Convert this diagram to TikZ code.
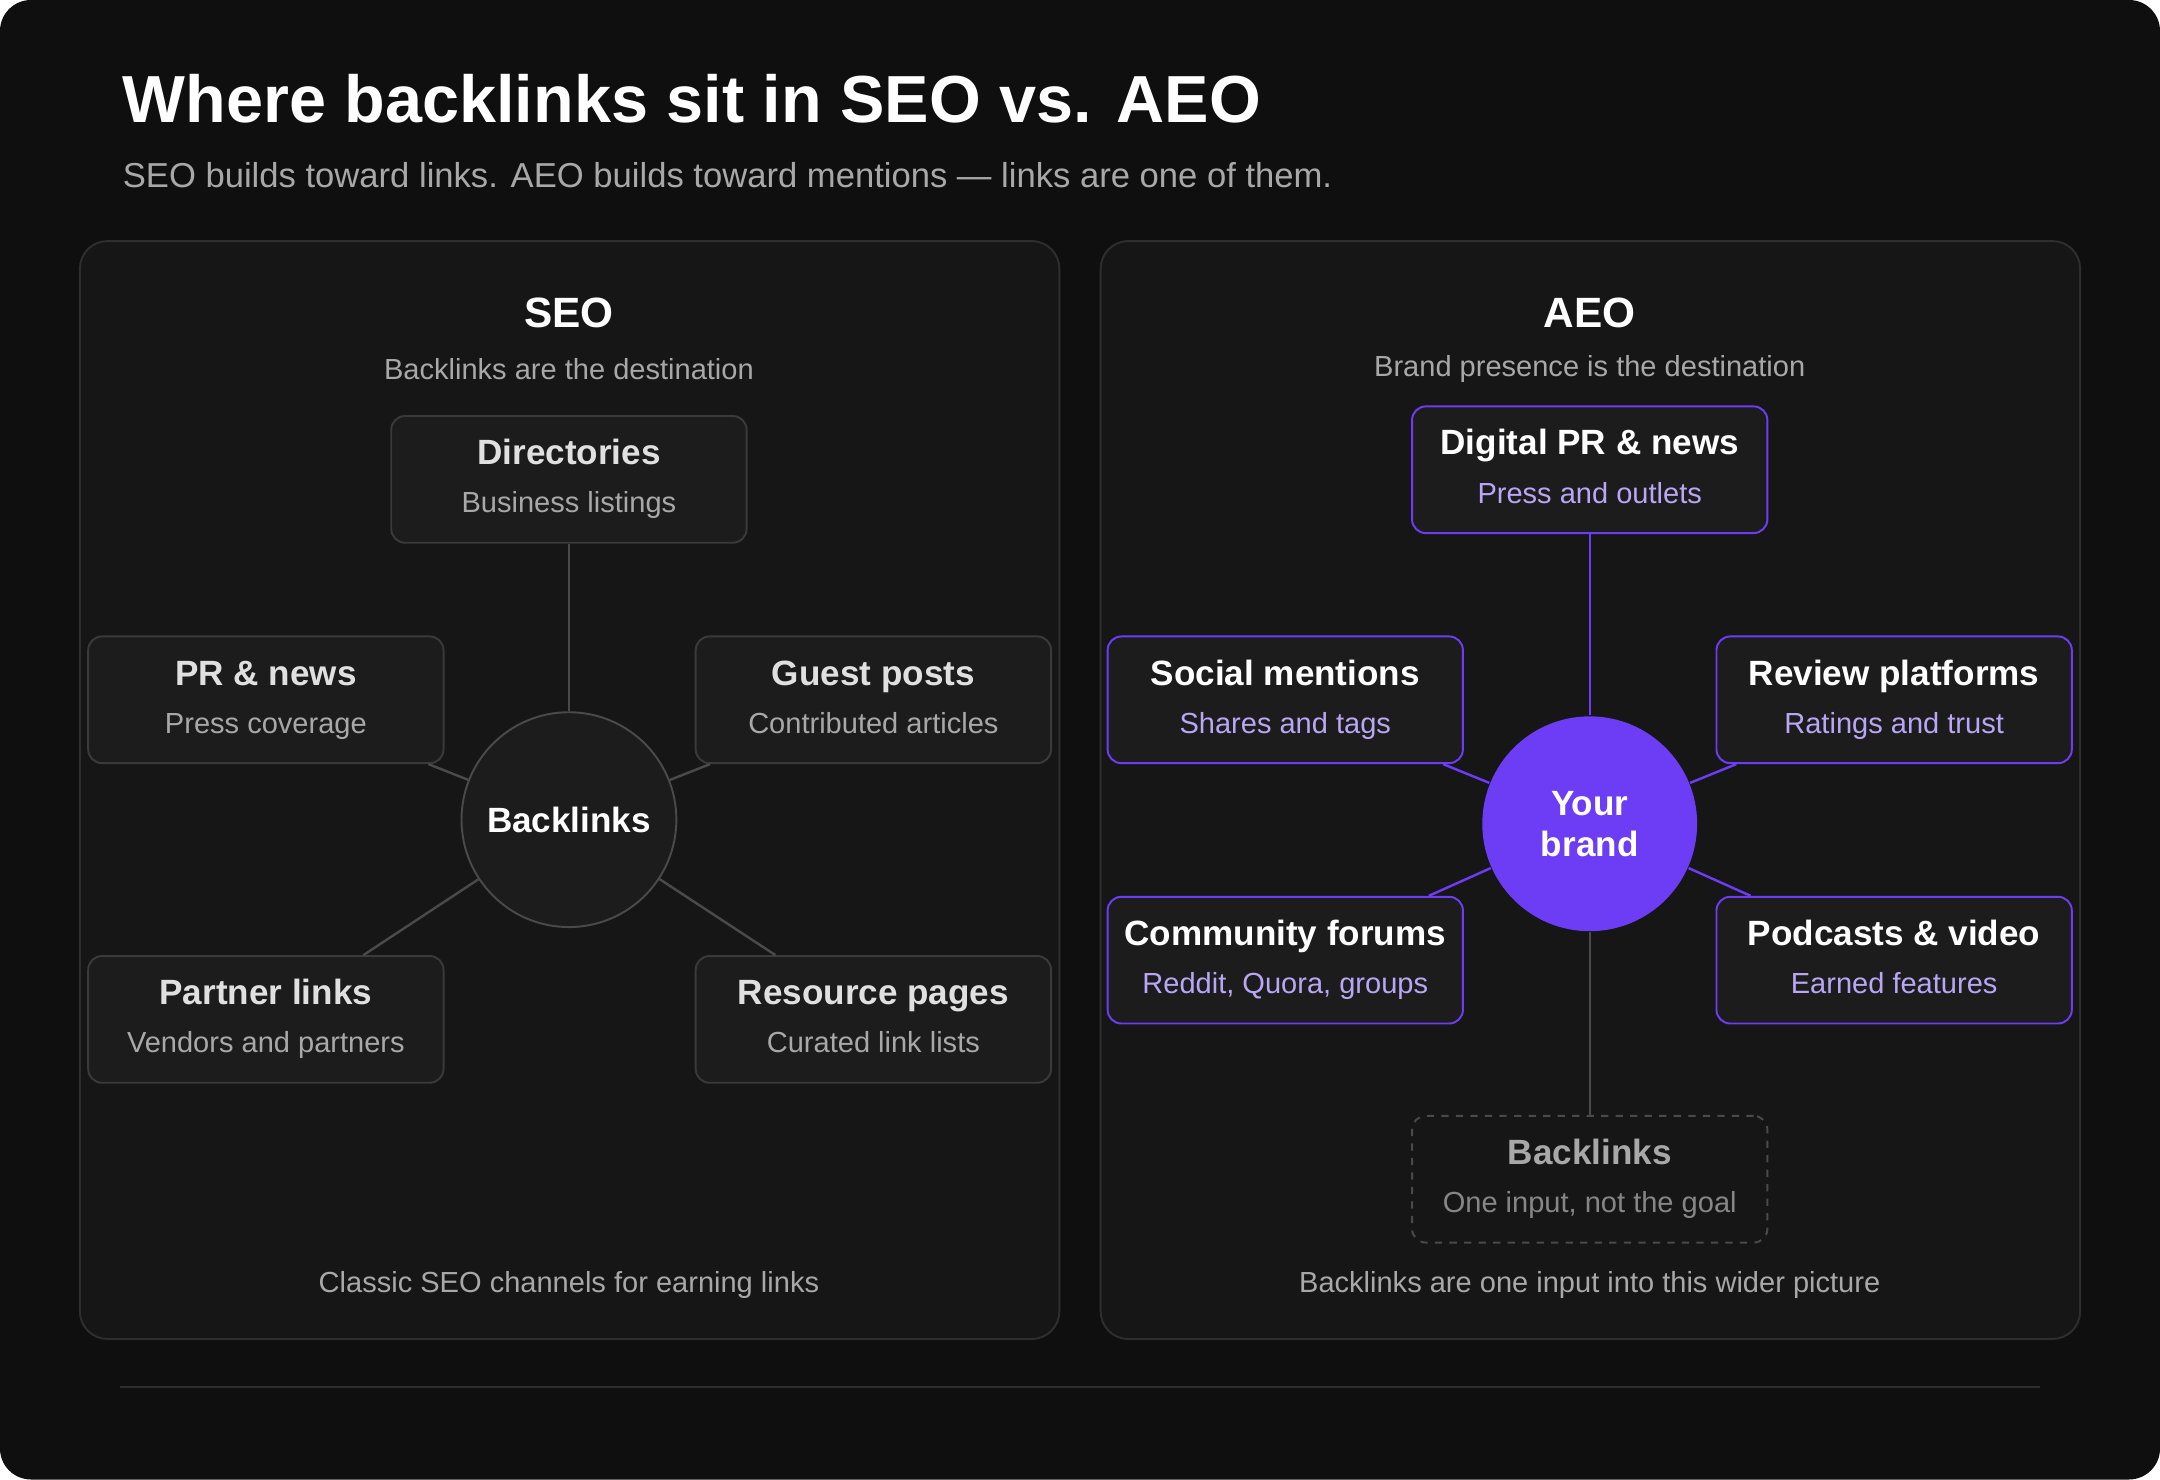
\documentclass[tikz,border=0pt]{standalone}
\usepackage{fontspec}
\setmainfont{Liberation Sans}
\usetikzlibrary{positioning}
\definecolor{bgdark}{HTML}{0F0F0F}
\definecolor{panelbg}{HTML}{161616}
\definecolor{panelline}{HTML}{2E2E2E}
\definecolor{boxbg}{HTML}{1C1C1C}
\definecolor{boxline}{HTML}{3A3A3A}
\definecolor{linkgray}{HTML}{4A4A4A}
\definecolor{subgray}{HTML}{A8A8A8}
\definecolor{brandpurple}{HTML}{6D3DF5}
\definecolor{lavender}{HTML}{B9A6F5}
\begin{document}
\begin{tikzpicture}[x=0.02cm,y=-0.02cm]
	\tikzstyle{every node}=[font=\fontsize{12}{14}\selectfont]
	\tikzstyle{panel}=[draw=panelline,fill=panelbg,rounded corners=0.4cm,line width=0.8pt]
	\tikzstyle{chan}=[draw=boxline,fill=boxbg,rounded corners=0.2cm,minimum width=5.16cm,minimum height=1.84cm,line width=0.8pt,align=center,text=subgray]
	\tikzstyle{aeochan}=[chan,draw=brandpurple,text=lavender]
	\tikzstyle{hub}=[circle,draw=linkgray,fill=boxbg,minimum size=3.12cm,line width=0.8pt,text=white,font=\fontsize{14.5}{17}\selectfont\bfseries]
	\tikzstyle{spoke}=[draw=linkgray,line width=1pt]
	\newcommand{\chantext}[2]{{\fontsize{14.5}{17}\selectfont\bfseries\color{white!88!black}\strut#1}\\[4pt]\strut#2}
	\newcommand{\aeotext}[2]{{\fontsize{14.5}{17}\selectfont\bfseries\color{white}\strut#1}\\[4pt]\strut#2}

	%% Background and frame
	\fill[white] (0,0) rectangle (1568,1074);
	\fill[bgdark,rounded corners=0.45cm] (0,0) rectangle (1568,1074);
	\node[anchor=west,text=white,font=\fontsize{27.5}{32}\selectfont\bfseries] (title) at (83,72) {Where backlinks sit in SEO vs. AEO};
	\node[anchor=west,text=subgray,font=\fontsize{14.3}{17}\selectfont] (subtitle) at (83,127) {SEO builds toward links. AEO builds toward mentions — links are one of them.};
	\draw[panel] (58,175) rectangle (769,972);
	\draw[panel] (799,175) rectangle (1510,972);
	\draw[panelline,line width=0.8pt] (87,1007) -- (1481,1007);

	%% SEO panel
	\node[text=white,font=\fontsize{17.5}{20}\selectfont\bfseries] (seo) at (413,227) {SEO};
	\node[text=subgray] (seosub) at (413,268) {Backlinks are the destination};
	\node[hub] (links) at (413,595) {Backlinks};
	\node[chan] (dir) at (413,348) {\chantext{Directories}{Business listings}};
	\node[chan] (pr) at (193,508) {\chantext{PR \& news}{Press coverage}};
	\node[chan] (guest) at (634,508) {\chantext{Guest posts}{Contributed articles}};
	\node[chan] (partner) at (193,740) {\chantext{Partner links}{Vendors and partners}};
	\node[chan] (resource) at (634,740) {\chantext{Resource pages}{Curated link lists}};
	\foreach \n in {dir,pr,guest,partner,resource}
		\draw[spoke] (links) -- (\n);
	\node[text=subgray] (seofoot) at (413,933) {Classic SEO channels for earning links};

	%% AEO panel
	\node[text=white,font=\fontsize{17.5}{20}\selectfont\bfseries] (aeo) at (1154,227) {AEO};
	\node[text=subgray] (aeosub) at (1154,268) {Brand presence is the destination};
	\node[hub,draw=none,fill=brandpurple,align=center] (brand) at (1154,598) {Your\\brand};
	\node[aeochan] (digital) at (1154,341) {\aeotext{Digital PR \& news}{Press and outlets}};
	\node[aeochan] (social) at (933,508) {\aeotext{Social mentions}{Shares and tags}};
	\node[aeochan] (review) at (1375,508) {\aeotext{Review platforms}{Ratings and trust}};
	\node[aeochan] (forums) at (933,697) {\aeotext{Community forums}{Reddit, Quora, groups}};
	\node[aeochan] (podcast) at (1375,697) {\aeotext{Podcasts \& video}{Earned features}};
	\node[chan,dashed,draw=linkgray,fill=panelbg,text=subgray!80!black] (input) at (1154,856) {{\fontsize{14.5}{17}\selectfont\bfseries\color{subgray}\strut Backlinks}\\[4pt]\strut One input, not the goal};
	\foreach \n in {digital,social,review,forums,podcast}
		\draw[spoke,draw=brandpurple] (brand) -- (\n);
	\draw[spoke] (brand) -- (input);
	\node[text=subgray] (aeofoot) at (1154,933) {Backlinks are one input into this wider picture};
\end{tikzpicture}
\end{document}
